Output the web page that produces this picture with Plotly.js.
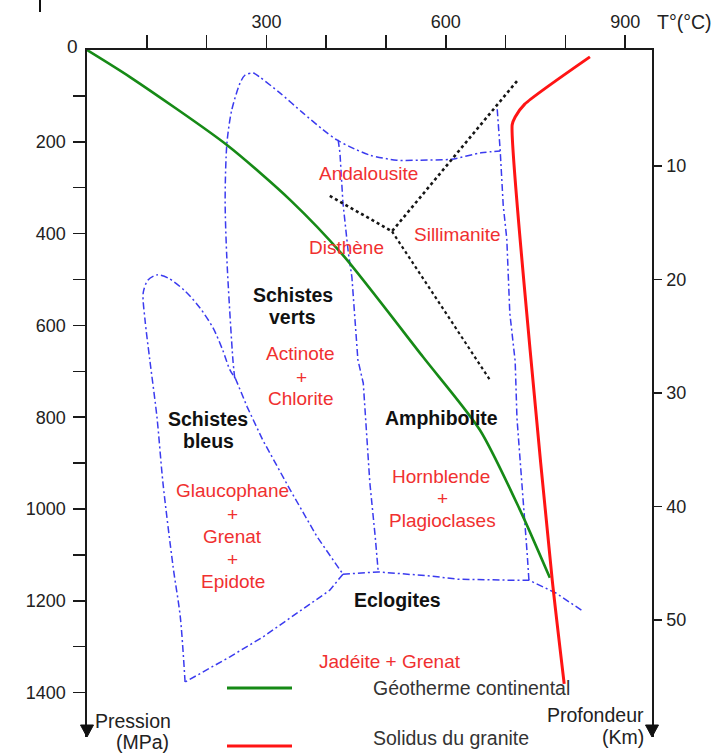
<!DOCTYPE html>
<html><head><meta charset="utf-8">
<script src="https://cdn.plot.ly/plotly-3.0.1.min.js"></script>
<style>html,body{margin:0;padding:0;background:#fff}#chart{width:720px;height:754px}</style>
</head><body><div id="chart"></div>
<script>
// ---- Data (T in °C, P in MPa) ----
// Géotherme continental
const geoT = [0, 72, 234, 340, 428, 562, 657, 724, 774];
const geoP = [0, 59, 207, 327, 447, 669, 828, 1002, 1150];
// Solidus du granite
const solT = [841, 732, 716, 711, 741, 778, 798];
const solP = [15, 118, 146, 163, 654, 1155, 1381];

// Facies boundaries (blue dash-dot)
const vertsTopT = [247, 244, 234, 231, 234, 242, 256, 264, 278, 289, 323, 361, 395, 418, 440, 473, 518, 557, 609, 659, 691];
const vertsTopP = [715, 675, 458, 327, 203, 131, 72, 55, 50, 59, 94, 137, 174, 196, 211, 229, 240, 240, 238, 224, 220];
const amphRightT = [686, 691, 696, 702, 707, 716, 719, 727, 731, 736, 739];
const amphRightP = [129, 220, 338, 412, 573, 678, 802, 933, 1007, 1096, 1155];
const eclogTopT = [428, 487, 574, 620, 704, 739, 784, 831];
const eclogTopP = [1142, 1137, 1146, 1153, 1155, 1155, 1183, 1224];
const vertsAmphT = [420, 423, 428, 437, 443, 453, 462, 468, 473, 482, 487];
const vertsAmphP = [196, 224, 333, 442, 495, 675, 726, 834, 943, 1061, 1137];
const bleusBaseT = [428, 406, 351, 294, 239, 184, 164];
const bleusBaseP = [1142, 1177, 1227, 1279, 1322, 1362, 1377];
const bleusLoopT = [164, 156, 144, 127, 117, 105, 97, 94, 102, 117, 136, 164, 189, 211, 227, 239, 248];
const bleusLoopP = [1377, 1235, 1126, 943, 800, 675, 588, 529, 501, 490, 497, 525, 562, 606, 654, 697, 715];
const bleusSideT = [248, 268, 294, 340, 385, 428];
const bleusSideP = [715, 778, 850, 959, 1061, 1142];

// Aluminosilicate lines (black dotted)
const alsiAT = [406, 510, 722];
const alsiAP = [318, 395, 63];
const alsiBT = [510, 674];
const alsiBP = [395, 719];

// Mineral labels (red)
const mineralText = ["Andalousite", "Sillimanite", "Disthène", "Actinote", "+", "Chlorite",
  "Glaucophane", "+", "Grenat", "+", "Epidote", "Hornblende", "+", "Plagioclases", "Jadéite + Grenat"];
const mineralT = [470, 620, 434, 357, 359, 357, 243, 244, 244, 244, 244, 592, 594, 594, 506];
const mineralP = [270, 402, 430, 661, 713, 760, 959, 1011, 1059, 1111, 1159, 930, 978, 1026, 1333];

// Facies labels (bold)
const faciesText = ["Schistes", "verts", "Schistes", "bleus", "Amphibolite", "Eclogites"];
const faciesT = [344, 344, 202, 204, 592, 520];
const faciesP = [534, 582, 804, 852, 802, 1198];

// Axis ticks
const tempTicks = [100, 200, 300, 400, 500, 600, 700, 800, 900];
const tempLabels = ["", "", "300", "", "", "600", "", "", "900"];
const presTicks = [200, 400, 600, 800, 1000, 1200, 1400];
const presMinor = [100, 300, 500, 700, 900, 1100, 1300];
const depthTicks = [10, 20, 30, 40, 50];

// ---- Layout geometry ----
const W = 720, H = 754, L = 87, R = 68, T = 50, B = 17;
const pw = W - L - R, ph = H - T - B;
const px2x = px => (px - L) / pw;
const py2y = py => (H - B - py) / ph;

const FONT = "Liberation Sans, Arial, sans-serif";
const BLUE = "#3b3bef";
const blueLine = {color: BLUE, width: 1.5, dash: "7px,3px,2px,3px"};
const blueCurve = Object.assign({}, blueLine, {shape: "spline", smoothing: 0.8});

const traces = [];
function addLine(x, y, line) {
  traces.push({x: x, y: y, type: "scatter", mode: "lines", line: line, hoverinfo: "skip", showlegend: false, cliponaxis: false});
}
addLine(vertsTopT, vertsTopP, blueCurve);
addLine(amphRightT, amphRightP, blueLine);
addLine(eclogTopT, eclogTopP, blueLine);
addLine(vertsAmphT, vertsAmphP, blueLine);
addLine(bleusBaseT, bleusBaseP, blueLine);
addLine(bleusLoopT, bleusLoopP, blueCurve);
addLine(bleusSideT, bleusSideP, blueLine);
addLine(alsiAT, alsiAP, {color: "#151515", width: 2.6, dash: "dot"});
addLine(alsiBT, alsiBP, {color: "#151515", width: 2.2, dash: "dot"});
addLine(geoT, geoP, {color: "#168a16", width: 2.6, shape: "spline", smoothing: 0.7});
addLine(solT, solP, {color: "#ff1414", width: 3, shape: "spline", smoothing: 0.6});
traces.push({x: [], y: [], yaxis: "y2", type: "scatter", mode: "lines", showlegend: false, hoverinfo: "skip"});

const annotations = [];
mineralText.forEach((t, i) => annotations.push({
  x: mineralT[i], y: mineralP[i], xref: "x", yref: "y", text: t, showarrow: false,
  font: {family: FONT, size: 19, color: "#f03030"}, xanchor: "center", yanchor: "middle"}));
faciesText.forEach((t, i) => annotations.push({
  x: faciesT[i], y: faciesP[i], xref: "x", yref: "y", text: "<b>" + t + "</b>", showarrow: false,
  font: {family: FONT, size: 19.5, color: "#111"}, xanchor: "center", yanchor: "middle"}));

function paperText(text, px, py, anchor, color, size) {
  annotations.push({x: px2x(px), y: py2y(py), xref: "paper", yref: "paper", text: text, showarrow: false,
    font: {family: FONT, size: size || 19, color: color || "#222"}, xanchor: anchor, yanchor: "middle"});
}
paperText("0", 80, 46, "right");
paperText("T°(°C)", 684, 22, "center", "#222", 19.5);
paperText("Pression", 133, 721, "center", "#222", 19.5);
paperText("(MPa)", 142, 742, "center", "#222", 19.5);
paperText("Profondeur", 595, 715, "center", "#222", 19.5);
paperText("(Km)", 623, 737, "center", "#222", 19.5);
paperText("Géotherme continental", 371, 688, "left", "#333", 19.5);
paperText("Solidus du granite", 371, 738, "left", "#333", 19.5);

const shapes = [];
function arrow(px) {
  const hw = 6.5 / pw, hh = 12 / ph, x0 = px2x(px);
  shapes.push({type: "path", xref: "paper", yref: "paper",
    path: `M ${x0 - hw} ${hh} L ${x0 + hw} ${hh} L ${x0} 0 Z`, fillcolor: "#111", line: {color: "#111", width: 1}});
}
arrow(L); arrow(W - R);
function seg(x0, x1, py, color) {
  shapes.push({type: "line", xref: "paper", yref: "paper", x0: px2x(x0), x1: px2x(x1), y0: py2y(py), y1: py2y(py),
    line: {color: color, width: 3}});
}
seg(227, 292, 688, "#168a16");
seg(227, 292, 746, "#ff1414");
shapes.push({type: "line", xref: "paper", yref: "paper", x0: px2x(40), x1: px2x(40), y0: py2y(0), y1: py2y(12),
  line: {color: "#111", width: 2}});

const axisCommon = {showgrid: false, zeroline: false, showline: true, linecolor: "#1a1a1a", linewidth: 1.6,
  ticks: "outside", tickcolor: "#1a1a1a", tickwidth: 1.5, tickfont: {family: FONT, size: 18, color: "#222"}};

const layout = {
  width: W, height: H, margin: {l: L, r: R, t: T, b: B, pad: 0},
  paper_bgcolor: "#fff", plot_bgcolor: "#fff", showlegend: false,
  xaxis: Object.assign({}, axisCommon, {side: "top", range: [0, pw / 0.598], tickmode: "array",
    tickvals: tempTicks, ticktext: tempLabels, ticklen: 13, fixedrange: true}),
  yaxis: Object.assign({}, axisCommon, {range: [ph / 0.459, 0], tickmode: "array", tickvals: presTicks,
    ticktext: presTicks.map(String), ticklen: 12, ticklabelstandoff: 4, fixedrange: true,
    minor: {tickmode: "array", tickvals: presMinor, ticks: "outside", ticklen: 12, tickwidth: 1.5, tickcolor: "#1a1a1a", showgrid: false}}),
  yaxis2: Object.assign({}, axisCommon, {overlaying: "y", side: "right", range: [60.31, -0.22], tickmode: "array",
    tickvals: depthTicks, ticktext: depthTicks.map(String), ticklen: 8, ticklabelstandoff: 1, fixedrange: true}),
  annotations: annotations, shapes: shapes
};
Plotly.newPlot("chart", traces, layout, {displayModeBar: false, staticPlot: true});
</script></body></html>
